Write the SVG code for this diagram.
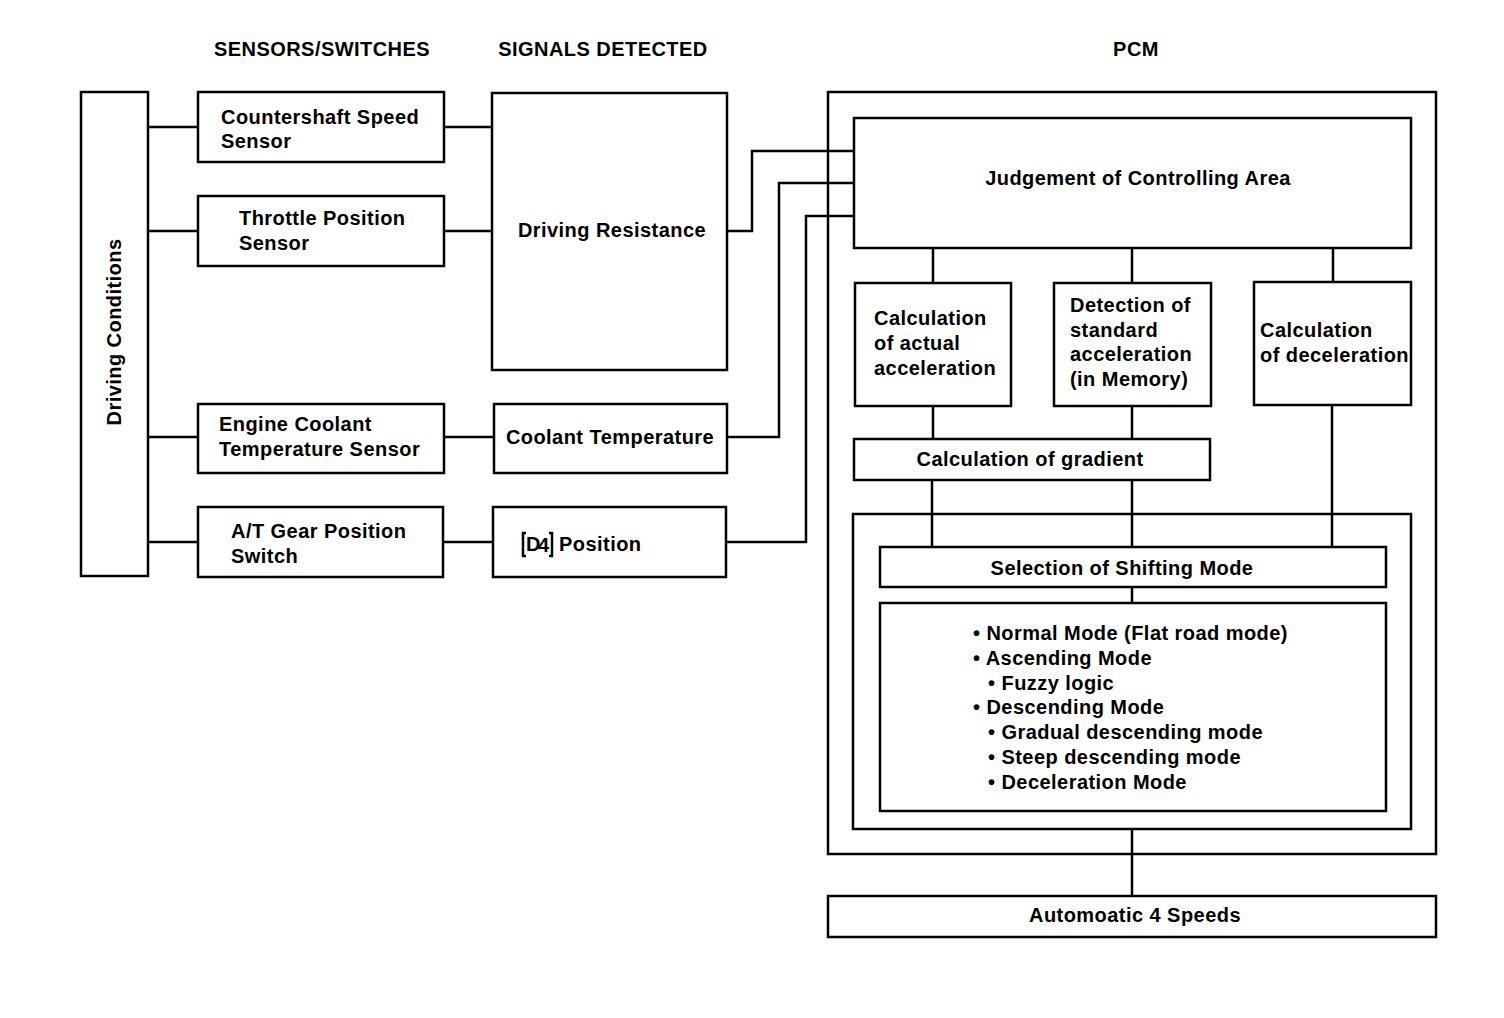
<svg xmlns="http://www.w3.org/2000/svg" width="1504" height="1018" viewBox="0 0 1504 1018">
<style>
.b{fill:#fff;stroke:#000;stroke-width:2.5}
.f{fill:none;stroke:#000;stroke-width:2.5}
.c{fill:none;stroke:#000;stroke-width:2.5}
text{font-family:"Liberation Sans",Arial,sans-serif;font-weight:bold;font-size:20px;letter-spacing:0.45px;fill:#000}
.m{text-anchor:middle}
</style>
<rect width="1504" height="1018" fill="#fff"/>
<g id="headers">
<text class="m" x="322" y="56">SENSORS/SWITCHES</text>
<text class="m" x="603" y="56">SIGNALS DETECTED</text>
<text class="m" x="1136" y="56">PCM</text>
</g>
<g id="pcm"><rect class="f" x="828" y="92" width="608" height="762"/></g>
<g id="shift-frame"><rect class="f" x="853" y="514" width="558" height="315"/></g>
<g id="connectors">
<path class="c" d="M148 127H198M148 231H198M148 437H198M148 542H198"/>
<path class="c" d="M444 127H492M444 231H492M444 437H494M443 542H493"/>
<path class="c" d="M727 231H752V151H855M727 437H779V183H855M726 542H806V216H855"/>
<path class="c" d="M933 248V283M1132 248V283M1333 248V282"/>
<path class="c" d="M933 406V439M1132 406V439"/>
<path class="c" d="M932 480V547M1132 480V547M1332 405V547"/>
<path class="c" d="M1132 587V603"/>
<path class="c" d="M1132 829V896"/>
</g>
<g id="driving-conditions"><rect class="b" x="81" y="92" width="67" height="484"/>
<text class="m" transform="translate(121 332) rotate(-90)">Driving Conditions</text></g>
<g id="countershaft"><rect class="b" x="198" y="92" width="246" height="70"/>
<text x="221" y="124">Countershaft Speed</text><text x="221" y="148">Sensor</text></g>
<g id="throttle"><rect class="b" x="198" y="196" width="246" height="70"/>
<text x="239" y="225">Throttle Position</text><text x="239" y="250">Sensor</text></g>
<g id="ect"><rect class="b" x="198" y="404" width="246" height="69"/>
<text x="219" y="431">Engine Coolant</text><text x="219" y="456">Temperature Sensor</text></g>
<g id="atgear"><rect class="b" x="198" y="507" width="245" height="70"/>
<text x="231" y="538">A/T Gear Position</text><text x="231" y="563">Switch</text></g>
<g id="driving-resistance"><rect class="b" x="492" y="93" width="235" height="277"/>
<text class="m" x="612" y="237">Driving Resistance</text></g>
<g id="coolant-temp"><rect class="b" x="494" y="404" width="233" height="69"/>
<text class="m" x="610" y="444">Coolant Temperature</text></g>
<g id="d4"><rect class="b" x="493" y="507" width="233" height="70"/>
<path class="c" stroke-width="1.5" d="M526 533H523V556H526M549 533H552V556H549"/>
<text x="526" y="551" font-size="15" style="letter-spacing:0">D</text><text x="538" y="552" font-size="9" style="letter-spacing:0">4</text>
<text x="559" y="551">Position</text></g>
<g id="judgement"><rect class="b" x="854" y="118" width="557" height="130"/>
<text class="m" x="1138" y="185">Judgement of Controlling Area</text></g>
<g id="actual-accel"><rect class="b" x="855" y="283" width="156" height="123"/>
<text x="874" y="325">Calculation</text><text x="874" y="350">of actual</text><text x="874" y="375">acceleration</text></g>
<g id="std-accel"><rect class="b" x="1054" y="283" width="157" height="123"/>
<text x="1070" y="312">Detection of</text><text x="1070" y="337">standard</text><text x="1070" y="361">acceleration</text><text x="1070" y="386">(in Memory)</text></g>
<g id="decel"><rect class="b" x="1254" y="282" width="157" height="123"/>
<text x="1260" y="337">Calculation</text><text x="1260" y="362">of deceleration</text></g>
<g id="gradient"><rect class="b" x="854" y="439" width="356" height="41"/>
<text class="m" x="1030" y="466">Calculation of gradient</text></g>
<g id="selection"><rect class="b" x="880" y="547" width="506" height="40"/>
<text class="m" x="1122" y="575">Selection of Shifting Mode</text></g>
<g id="modes"><rect class="b" x="880" y="603" width="506" height="208"/>
<text x="973" y="640">• Normal Mode (Flat road mode)</text>
<text x="973" y="665">• Ascending Mode</text>
<text x="988" y="690">• Fuzzy logic</text>
<text x="973" y="714">• Descending Mode</text>
<text x="988" y="739">• Gradual descending mode</text>
<text x="988" y="764">• Steep descending mode</text>
<text x="988" y="789">• Deceleration Mode</text></g>
<g id="auto4"><rect class="b" x="828" y="896" width="608" height="41"/>
<text class="m" x="1135" y="922">Automoatic 4 Speeds</text></g>
</svg>
